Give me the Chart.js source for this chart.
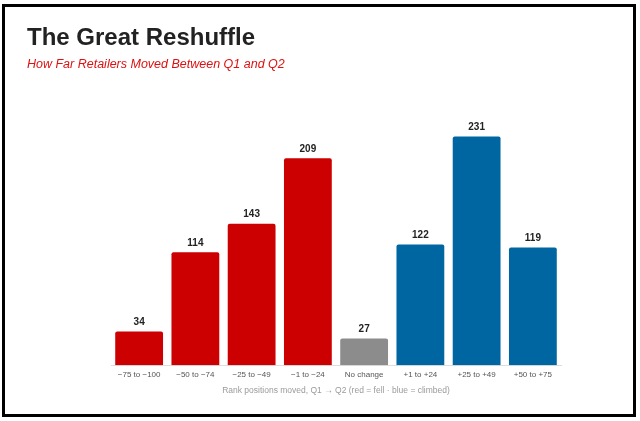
<!DOCTYPE html>
<html>
<head>
<meta charset="utf-8">
<script src="https://cdn.jsdelivr.net/npm/chart.js@4.4.1/dist/chart.umd.min.js"></script>
<style>
  html, body { margin: 0; padding: 0; background: #fff; }
  .frame {
    position: absolute; left: 2px; top: 4px;
    width: 634px; height: 413px;
    box-sizing: border-box;
    border: 3px solid #000;
    background: #fff;
  }
  .frame canvas { display: block; }
</style>
</head>
<body>
<div class="frame">
  <canvas id="reshuffleChart" width="628" height="407"></canvas>
</div>
<script>
// buckets of rank movement between Q1 and Q2
const categories = ["\u221275 to \u2212100", "\u221250 to \u221274", "\u221225 to \u221249", "\u22121 to \u221224",
                    "No change", "+1 to +24", "+25 to +49", "+50 to +75"];
const retailerCounts = [34, 114, 143, 209, 27, 122, 231, 119];
const direction = ["fell", "fell", "fell", "fell", "same", "climbed", "climbed", "climbed"];

const colorFor = { fell: "#cc0000", same: "#8c8c8c", climbed: "#0066a1" };
const fontFamily = "'Liberation Sans', Arial, Helvetica, sans-serif";

// simple value labels above each bar (no datalabels plugin offline)
const valueLabels = {
  id: "valueLabels",
  afterDatasetsDraw(chart) {
    const ctx = chart.ctx;
    const meta = chart.getDatasetMeta(0);
    ctx.save();
    ctx.font = "bold 10px " + fontFamily;
    ctx.fillStyle = "#222";
    ctx.textAlign = "center";
    ctx.textBaseline = "bottom";
    meta.data.forEach((bar, i) => {
      ctx.fillText(String(retailerCounts[i]), bar.x, bar.y - 4);
    });
    ctx.restore();
  }
};

new Chart(document.getElementById("reshuffleChart"), {
  type: "bar",
  data: {
    labels: categories,
    datasets: [{
      label: "Retailers",
      data: retailerCounts,
      backgroundColor: direction.map(d => colorFor[d]),
      borderRadius: 2,
      categoryPercentage: 0.85,
      barPercentage: 1.0
    }]
  },
  options: {
    responsive: false,
    animation: false,
    layout: { padding: { left: 22, right: 72, top: 0, bottom: 0 } },
    scales: {
      x: {
        grid: { display: false, drawTicks: false, tickLength: 0 },
        border: { display: true, color: "#dddddd", width: 1 },
        ticks: { color: "#555", font: { family: fontFamily, size: 8 }, padding: 5, maxRotation: 0 },
        title: {
          display: true,
          text: "Rank positions moved, Q1 \u2192 Q2 (red = fell \u00b7 blue = climbed)",
          color: "#9a9a9a",
          font: { family: fontFamily, size: 8.5 },
          padding: { top: 1, bottom: 18 }
        }
      },
      y: {
        min: 0,
        max: 260,
        grid: { display: false },
        border: { display: false },
        ticks: { display: false },
        afterFit: (scale) => { scale.width = 84; }
      }
    },
    plugins: {
      legend: { display: false },
      tooltip: { enabled: false },
      title: {
        display: true,
        align: "start",
        text: "The Great Reshuffle",
        color: "#222",
        font: { family: fontFamily, size: 24, weight: "bold" },
        padding: { top: 17, bottom: 4 }
      },
      subtitle: {
        display: true,
        align: "start",
        text: "How Far Retailers Moved Between Q1 and Q2",
        color: "#dd1111",
        font: { family: fontFamily, size: 12.5, style: "italic" },
        padding: { top: 0, bottom: 36 }
      }
    }
  },
  plugins: [valueLabels]
});
</script>
</body>
</html>
